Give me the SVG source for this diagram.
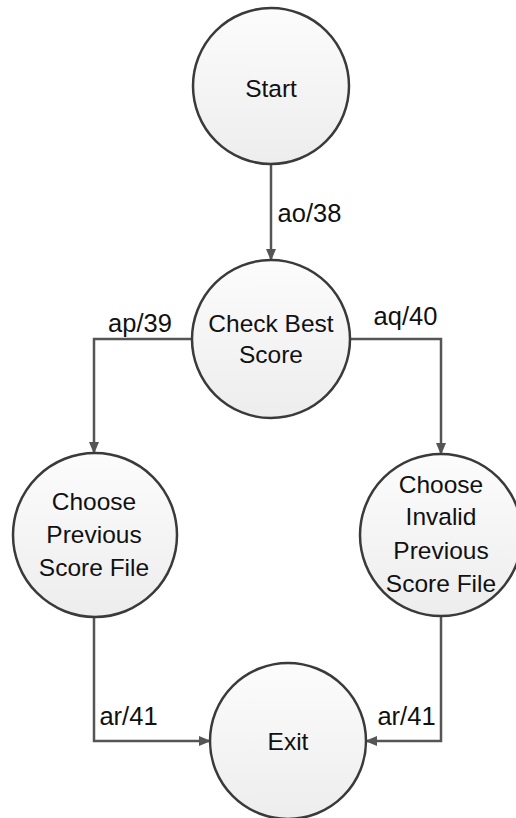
<svg xmlns="http://www.w3.org/2000/svg" width="516" height="818" viewBox="0 0 516 818">
  <defs>
    <linearGradient id="nodeFill" x1="0" y1="0" x2="0" y2="1">
      <stop offset="0" stop-color="#fcfcfc"/>
      <stop offset="1" stop-color="#ededed"/>
    </linearGradient>
    <marker id="arrow" markerWidth="12" markerHeight="10" refX="11" refY="5" orient="auto" markerUnits="userSpaceOnUse">
      <path d="M0,0 L12,5 L0,10 Z" fill="#555"/>
    </marker>
    <style>
      .node circle { fill: url(#nodeFill); stroke: #3a3a3a; stroke-width: 2.5; }
      .node text { font-family: "Liberation Sans", Arial, sans-serif; font-size: 24.5px; fill: #111; text-anchor: middle; }
      .edge { fill: none; stroke: #555; stroke-width: 2.5; marker-end: url(#arrow); }
      .label { font-family: "Liberation Sans", Arial, sans-serif; font-size: 25.5px; fill: #111; text-anchor: middle; }
    </style>
  </defs>
  <rect width="516" height="818" fill="#fff"/>

  <g id="connectors">
    <path class="edge" d="M271,164 L271,260"/>
    <path class="edge" d="M192,339 L94,339 L94,453"/>
    <path class="edge" d="M350,339 L441,339 L441,454"/>
    <path class="edge" d="M94,617 L94,741 L210,741"/>
    <path class="edge" d="M441,616 L441,741 L366,741"/>
    <text class="label" x="309.5" y="222">ao/38</text>
    <text class="label" x="140" y="332">ap/39</text>
    <text class="label" x="405.5" y="325">aq/40</text>
    <text class="label" x="128.5" y="725">ar/41</text>
    <text class="label" x="406.5" y="725">ar/41</text>
  </g>

  <g id="start" class="node">
    <circle cx="271" cy="86" r="78"/>
    <text x="271" y="97">Start</text>
  </g>

  <g id="check-best-score" class="node">
    <circle cx="271" cy="339" r="79"/>
    <text x="271" y="332">Check Best</text>
    <text x="271" y="363">Score</text>
  </g>

  <g id="choose-previous" class="node">
    <circle cx="95" cy="535" r="82"/>
    <text x="94" y="510">Choose</text>
    <text x="94" y="543">Previous</text>
    <text x="94" y="576">Score File</text>
  </g>

  <g id="choose-invalid" class="node">
    <circle cx="441" cy="535" r="81"/>
    <text x="441" y="493">Choose</text>
    <text x="441" y="525">Invalid</text>
    <text x="441" y="559">Previous</text>
    <text x="441" y="592">Score File</text>
  </g>

  <g id="exit" class="node">
    <circle cx="288" cy="741" r="78"/>
    <text x="288" y="750">Exit</text>
  </g>
</svg>
